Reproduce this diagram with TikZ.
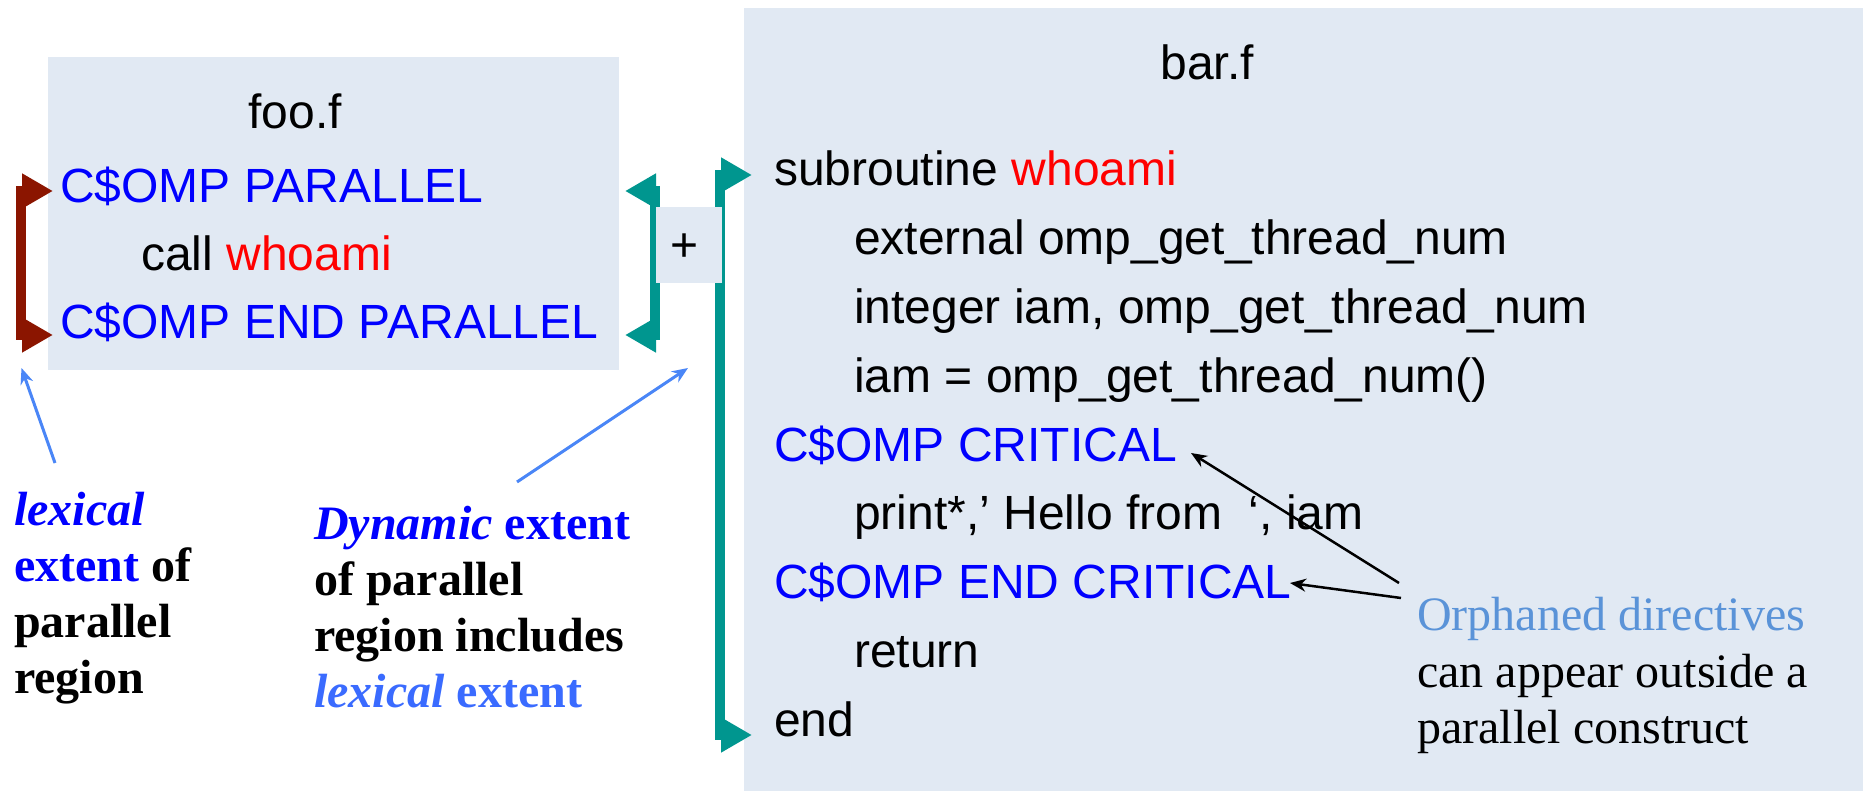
\documentclass[tikz,border=0pt]{standalone}
\usepackage{fontspec}
\setmainfont{Liberation Sans}
\newfontfamily\serifface{Liberation Serif}
\usetikzlibrary{arrows.meta,calc}

\definecolor{panel}{HTML}{E1E9F3}
\definecolor{brteal}{HTML}{00968F}
\definecolor{brred}{HTML}{8B1500}
\definecolor{dirblue}{HTML}{0000FF}
\definecolor{fnred}{HTML}{FF0000}
\definecolor{noteblue}{HTML}{4A86F7}
\definecolor{lexblue}{HTML}{3A6BFF}
\definecolor{orphblue}{HTML}{5A93D8}

\begin{document}
\begin{tikzpicture}[x=1pt,y=-1pt,
  code/.style={anchor=base west,inner sep=0pt,font=\fontsize{48}{56}\selectfont},
  ftitle/.style={anchor=base,inner sep=0pt,font=\fontsize{48}{56}\selectfont},
  boldnote/.style={anchor=base west,inner sep=0pt,font=\serifface\bfseries\fontsize{48}{56}\selectfont},
  plainnote/.style={anchor=base west,inner sep=0pt,font=\serifface\fontsize{48}{56}\selectfont},
  panelbox/.style={fill=panel,draw=none},
  bracket/.style={line width=10pt,arrows={Triangle[length=31pt,width=33pt]-Triangle[length=31pt,width=33pt]}},
  hint/.style={line width=3pt,draw=noteblue,arrows={-Stealth[length=16pt,width=13pt]}},
  pointer/.style={line width=2.5pt,draw=black,arrows={-Stealth[length=16pt,width=13pt]}}]

% canvas
\fill[white] (0,0) rectangle (1863,791);
\useasboundingbox (0,0) rectangle (1863,791);

% source file panels
\fill[panelbox] (744,8) rectangle (1863,791);
\fill[panelbox] (48,57) rectangle (619,370);

% end points of the extent brackets
\coordinate (rTop) at (53,191);
\coordinate (rBot) at (53,335);
\coordinate (tlTop) at (625,191);
\coordinate (tlBot) at (625,335);
\coordinate (trTop) at (752,175);
\coordinate (trBot) at (752,735);

% lexical extent bracket (red) and dynamic extent brackets (teal)
\draw[bracket,brred,fill=brred] (rTop) -- ++(-32,0) |- (rBot);
\draw[bracket,brteal,fill=brteal] (tlTop) -- ++(30,0) |- (tlBot);
\draw[bracket,brteal,fill=brteal] (trTop) -- ++(-32,0) |- (trBot);

% the "+" joining both files
\fill[panelbox] (656,207) rectangle (722,283);
\node[ftitle] (plus) at (685,262) {+};

% foo.f
\node[ftitle] (fooTitle) at (295,129) {foo.f};
\node[code,text=dirblue] (ompPar) at (60,203) {C\$OMP PARALLEL};
\node[code] (callW) at (141,271) {call \textcolor{fnred}{whoami}};
\node[code,text=dirblue] (ompEndPar) at (60,339) {C\$OMP END PARALLEL};

% bar.f
\node[ftitle] (barTitle) at (1207,80) {bar.f};
\node[code] (sub) at (774,186) {subroutine \textcolor{fnred}{whoami}};
\node[code] (ext) at (854,254.75) {external omp\_get\_thread\_num};
\node[code] (intg) at (854,323.5) {integer iam, omp\_get\_thread\_num};
\node[code] (assign) at (854,392.25) {iam = omp\_get\_thread\_num()};
\node[code,text=dirblue] (crit) at (774,461) {C\$OMP CRITICAL};
\node[code] (prnt) at (854,529.75) {print*,’ Hello from \ ‘, iam};
\node[code,text=dirblue] (endCrit) at (774,598.5) {C\$OMP END CRITICAL};
\node[code] (ret) at (854,667.25) {return};
\node[code] (fin) at (774,736) {end};

% left note: lexical extent
\node[boldnote,text=dirblue] (lex1) at (14,525) {\itshape lexical};
\node[boldnote] (lex2) at (14,581) {\textcolor{dirblue}{extent} of};
\node[boldnote] (lex3) at (14,637) {parallel};
\node[boldnote] (lex4) at (14,693) {region};

% middle note: dynamic extent
\node[boldnote,text=dirblue] (dyn1) at (314,539) {\textit{Dynamic} extent};
\node[boldnote] (dyn2) at (314,595) {of parallel};
\node[boldnote] (dyn3) at (314,651) {region includes};
\node[boldnote,text=lexblue] (dyn4) at (314,707) {\textit{lexical} extent};

% right note: orphaned directives
\node[plainnote,text=orphblue] (orph1) at (1417,630) {Orphaned directives};
\node[plainnote] (orph2) at (1417,687) {can appear outside a};
\node[plainnote] (orph3) at (1417,743) {parallel construct};

% pointers from the notes
\coordinate (lexFrom) at (55,463);
\coordinate (lexTo) at (21.5,368);
\coordinate (dynFrom) at (517,482);
\coordinate (dynTo) at (688,368);
\coordinate (orphA) at (1399,583);
\coordinate (orphB) at (1401,598);
\coordinate (critTip) at (1191,453);
\coordinate (endCritTip) at (1290,583);

\draw[hint] (lexFrom) -- (lexTo);
\draw[hint] (dynFrom) -- (dynTo);
\draw[pointer] (orphA) -- (critTip);
\draw[pointer] (orphB) -- (endCritTip);
\end{tikzpicture}
\end{document}
